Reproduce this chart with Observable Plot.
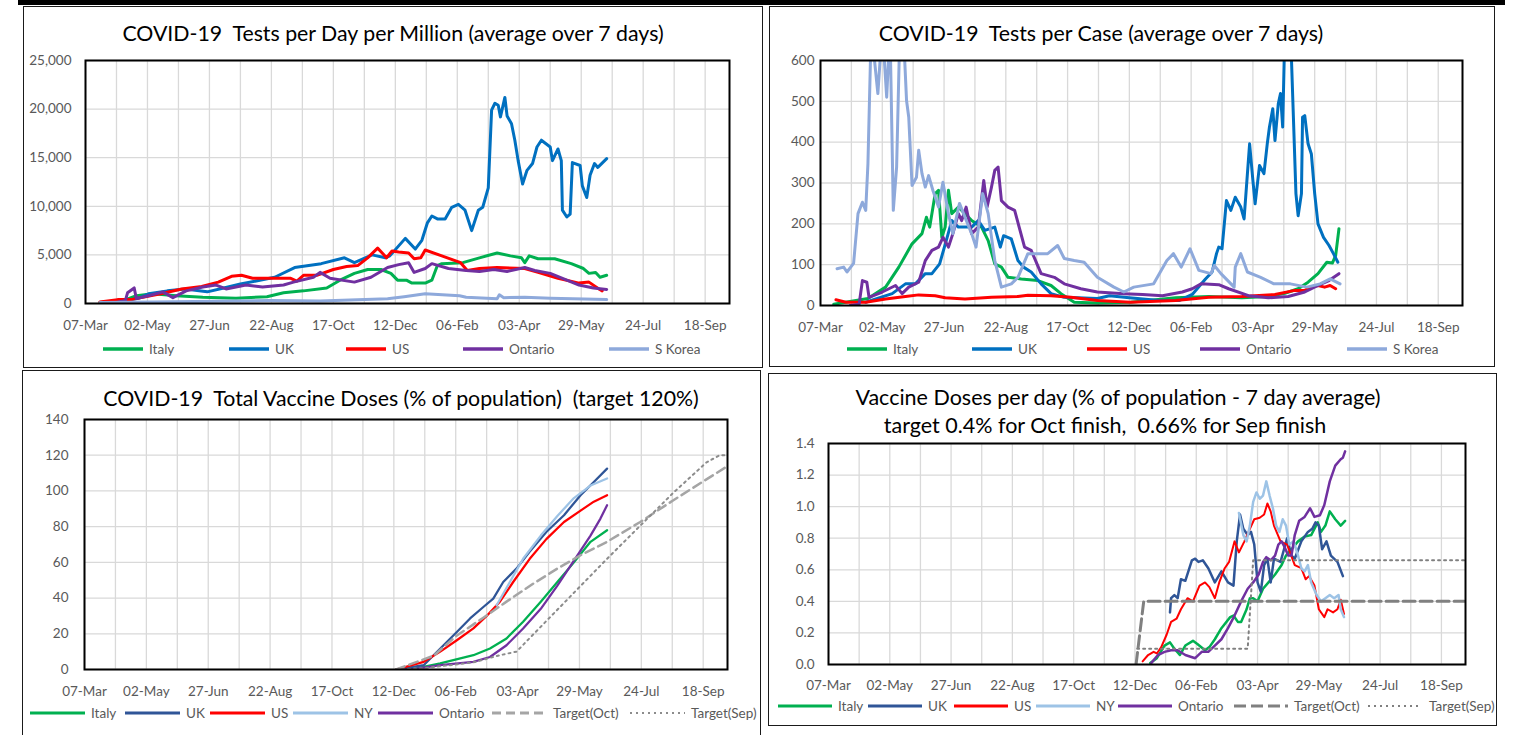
<!DOCTYPE html>
<html><head><meta charset="utf-8">
<script src="https://cdn.jsdelivr.net/npm/d3@7"></script>
<script src="https://cdn.jsdelivr.net/npm/@observablehq/plot@0.6"></script>
<style>
body{margin:0;background:#fff;width:1518px;height:735px;overflow:hidden;position:relative;font-family:Lato,"Noto Sans",sans-serif}
.panel{position:absolute;border:1.5px solid #1a1a1a;box-sizing:border-box}
.title{position:absolute;text-align:center;color:#000;white-space:pre;transform:translateX(-50%)}
.leg{position:absolute;display:flex;align-items:center;height:20px;color:#595959;font-size:13.5px;white-space:nowrap}
.leg svg{margin-right:6px}
.holder{position:absolute}
</style>
</head><body>
<script>
// ---------- x axis (shared) ----------
const xStart = "2020-03-07", xEnd = "2021-10-10";
const xTickLabels = ["2020-03-07","2020-05-02","2020-06-27","2020-08-22","2020-10-17","2020-12-12","2021-02-06","2021-04-03","2021-05-29","2021-07-24","2021-09-18"];
const xGridDates = ["2020-03-07","2020-04-04","2020-05-02","2020-05-30","2020-06-27","2020-07-25","2020-08-22","2020-09-19","2020-10-17","2020-11-14","2020-12-12","2021-01-09","2021-02-06","2021-03-06","2021-04-03","2021-05-01","2021-05-29","2021-06-26","2021-07-24","2021-08-21","2021-09-18"];

// ---------- Panel 1: Tests per Day per Million ----------
const p1Ticks = [0,5000,10000,15000,20000,25000];
const p1Italy = [["2020-03-20",100],["2020-04-10",300],["2020-04-22",800],["2020-05-07",1000],["2020-05-28",800],["2020-06-21",650],["2020-07-21",550],["2020-08-18",700],["2020-09-02",1100],["2020-09-20",1300],["2020-10-11",1600],["2020-10-23",2400],["2020-11-05",3100],["2020-11-17",3500],["2020-11-29",3500],["2020-12-08",3100],["2020-12-14",2400],["2020-12-22",2400],["2020-12-27",2100],["2021-01-08",2100],["2021-01-14",2400],["2021-01-19",3900],["2021-01-23",4100],["2021-02-11",4200],["2021-02-26",4700],["2021-03-14",5200],["2021-03-26",4900],["2021-04-05",4700],["2021-04-08",4200],["2021-04-12",4900],["2021-04-20",4600],["2021-05-05",4600],["2021-05-20",4100],["2021-05-31",3600],["2021-06-05",3100],["2021-06-11",3200],["2021-06-15",2700],["2021-06-21",2900]];
const p1UK = [["2020-04-10",200],["2020-04-25",600],["2020-05-03",1000],["2020-05-20",1300],["2020-06-05",1500],["2020-06-25",1200],["2020-07-10",1600],["2020-07-25",2000],["2020-08-25",2700],["2020-09-12",3700],["2020-10-06",4100],["2020-10-27",4700],["2020-11-05",4200],["2020-11-21",5000],["2020-12-03",4700],["2020-12-07",4900],["2020-12-21",6700],["2020-12-30",5600],["2021-01-05",6500],["2021-01-10",8300],["2021-01-14",9000],["2021-01-19",8700],["2021-01-26",8700],["2021-02-01",9900],["2021-02-07",10200],["2021-02-13",9600],["2021-02-19",7500],["2021-02-25",9600],["2021-03-01",9900],["2021-03-06",11900],["2021-03-09",19900],["2021-03-12",20600],["2021-03-15",20400],["2021-03-17",19200],["2021-03-21",21200],["2021-03-23",19300],["2021-03-27",18500],["2021-03-30",16800],["2021-04-02",14700],["2021-04-06",12300],["2021-04-10",13700],["2021-04-15",14400],["2021-04-19",16100],["2021-04-23",16800],["2021-05-01",16100],["2021-05-03",14700],["2021-05-08",15900],["2021-05-11",14700],["2021-05-12",9600],["2021-05-16",8900],["2021-05-19",9200],["2021-05-21",14500],["2021-05-28",14200],["2021-05-30",12100],["2021-06-03",10900],["2021-06-06",13200],["2021-06-10",14400],["2021-06-13",14000],["2021-06-21",14900]];
const p1US = [["2020-03-20",150],["2020-04-05",400],["2020-04-17",400],["2020-05-14",1000],["2020-06-02",1500],["2020-06-20",1750],["2020-07-05",2200],["2020-07-17",2800],["2020-07-26",2900],["2020-08-05",2600],["2020-08-14",2600],["2020-09-08",2600],["2020-09-14",2300],["2020-09-20",2900],["2020-10-02",2900],["2020-10-17",3500],["2020-10-29",3800],["2020-11-08",3900],["2020-11-17",4700],["2020-11-26",5700],["2020-12-01",5100],["2020-12-04",4700],["2020-12-09",5400],["2020-12-15",5300],["2020-12-24",5200],["2020-12-29",4600],["2021-01-04",4700],["2021-01-08",5500],["2021-01-23",4900],["2021-02-09",4200],["2021-02-15",3400],["2021-02-26",3600],["2021-03-14",3700],["2021-04-08",3600],["2021-04-20",3200],["2021-05-08",2600],["2021-05-27",2100],["2021-06-05",2200],["2021-06-14",1500],["2021-06-17",1300]];
const p1Ontario = [["2020-03-31",0],["2020-04-12",300],["2020-04-14",1100],["2020-04-20",1600],["2020-04-22",500],["2020-05-03",800],["2020-05-16",1200],["2020-05-25",600],["2020-06-06",1300],["2020-06-21",1700],["2020-07-03",1900],["2020-07-12",1500],["2020-07-30",1900],["2020-08-14",1700],["2020-09-02",1900],["2020-09-11",2200],["2020-09-29",2700],["2020-10-05",3200],["2020-10-14",2600],["2020-11-05",2200],["2020-11-20",2700],["2020-12-05",3700],["2020-12-15",4000],["2020-12-24",4200],["2020-12-29",3200],["2021-01-08",3600],["2021-01-14",4100],["2021-01-29",3600],["2021-02-14",3400],["2021-02-26",3300],["2021-03-11",3500],["2021-03-23",3300],["2021-04-08",3700],["2021-04-17",3400],["2021-05-01",3100],["2021-05-16",2400],["2021-05-27",1900],["2021-06-09",1600],["2021-06-21",1450]];
const p1SKorea = [["2020-03-20",100],["2020-05-07",150],["2020-08-20",300],["2020-10-05",250],["2020-12-05",500],["2020-12-20",700],["2021-01-08",1000],["2021-02-08",800],["2021-02-14",650],["2021-03-14",500],["2021-03-16",900],["2021-03-20",600],["2021-04-08",650],["2021-05-01",550],["2021-06-21",400]];

// ---------- Panel 2: Tests per Case ----------
const p2Ticks = [0,100,200,300,400,500,600];
const p2Italy = [["2020-03-19",3],["2020-04-19",17],["2020-05-05",45],["2020-05-17",94],["2020-05-29",151],["2020-06-07",176],["2020-06-11",216],["2020-06-14",192],["2020-06-19",274],["2020-06-22",282],["2020-06-25",167],["2020-06-28",192],["2020-07-01",282],["2020-07-04",225],["2020-07-10",241],["2020-07-16",225],["2020-07-22",208],["2020-07-31",192],["2020-08-06",159],["2020-08-12",102],["2020-08-18",94],["2020-08-24",69],["2020-09-05",65],["2020-09-20",61],["2020-10-02",49],["2020-10-11",29],["2020-10-23",8],["2020-11-13",6],["2020-12-13",8],["2021-01-23",19],["2021-02-22",22],["2021-03-24",19],["2021-04-17",22],["2021-05-02",30],["2021-05-14",41],["2021-05-23",57],["2021-06-01",78],["2021-06-09",106],["2021-06-14",104],["2021-06-17",122],["2021-06-20",188]];
const p2UK = [["2020-04-17",8],["2020-05-11",29],["2020-05-23",53],["2020-06-01",53],["2020-06-10",78],["2020-06-16",78],["2020-06-23",102],["2020-06-29",159],["2020-07-04",208],["2020-07-10",192],["2020-07-22",192],["2020-07-28",208],["2020-08-03",184],["2020-08-12",192],["2020-08-17",143],["2020-08-20",171],["2020-08-27",163],["2020-09-02",110],["2020-09-07",94],["2020-09-14",82],["2020-09-23",53],["2020-10-02",29],["2020-10-14",20],["2020-11-13",17],["2020-11-24",24],["2020-12-12",19],["2021-01-08",12],["2021-01-26",12],["2021-02-07",27],["2021-02-19",65],["2021-02-25",82],["2021-03-01",127],["2021-03-03",143],["2021-03-06",139],["2021-03-10",257],["2021-03-14",233],["2021-03-18",265],["2021-03-23",241],["2021-03-26",212],["2021-03-31",396],["2021-04-03",306],["2021-04-05",249],["2021-04-09",343],["2021-04-13",323],["2021-04-16",396],["2021-04-18",437],["2021-04-21",482],["2021-04-23",404],["2021-04-26",494],["2021-04-28",519],["2021-04-30",437],["2021-05-02",680],["2021-05-07",680],["2021-05-10",437],["2021-05-12",274],["2021-05-14",220],["2021-05-17",274],["2021-05-18",461],["2021-05-20",465],["2021-05-23",396],["2021-05-26",371],["2021-05-29",274],["2021-06-01",200],["2021-06-06",167],["2021-06-11",147],["2021-06-15",127],["2021-06-19",106]];
const p2US = [["2020-03-21",14],["2020-03-30",8],["2020-04-17",8],["2020-05-05",16],["2020-05-23",22],["2020-06-04",26],["2020-06-19",24],["2020-06-28",19],["2020-07-16",16],["2020-08-09",20],["2020-09-02",22],["2020-09-11",25],["2020-10-02",24],["2020-10-20",20],["2020-11-13",12],["2020-12-13",8],["2021-01-23",12],["2021-02-22",20],["2021-03-24",22],["2021-04-23",27],["2021-05-11",37],["2021-05-20",37],["2021-05-26",45],["2021-06-01",49],["2021-06-07",45],["2021-06-12",49],["2021-06-17",41]];
const p2Ontario = [["2020-04-03",0],["2020-04-11",3],["2020-04-14",61],["2020-04-18",57],["2020-04-20",20],["2020-05-02",33],["2020-05-14",49],["2020-05-20",29],["2020-05-26",45],["2020-06-04",57],["2020-06-10",110],["2020-06-16",135],["2020-06-22",143],["2020-06-26",167],["2020-07-01",143],["2020-07-05",176],["2020-07-10",225],["2020-07-13",208],["2020-07-17",241],["2020-07-22",176],["2020-07-28",192],["2020-08-02",306],["2020-08-05",241],["2020-08-09",290],["2020-08-12",331],["2020-08-15",339],["2020-08-18",257],["2020-08-24",241],["2020-08-30",233],["2020-09-08",143],["2020-09-14",135],["2020-09-23",78],["2020-10-05",69],["2020-10-14",53],["2020-10-29",41],["2020-11-13",33],["2020-12-07",29],["2020-12-24",27],["2021-01-11",24],["2021-01-29",33],["2021-02-07",41],["2021-02-15",53],["2021-03-03",51],["2021-03-12",41],["2021-03-30",24],["2021-04-17",19],["2021-05-05",22],["2021-05-20",33],["2021-06-01",49],["2021-06-11",61],["2021-06-20",78]];
const p2SKorea = [["2020-03-22",90],["2020-03-28",94],["2020-03-31",82],["2020-04-06",103],["2020-04-10",225],["2020-04-14",253],["2020-04-17",233],["2020-04-19",347],["2020-04-22",680],["2020-04-28",519],["2020-05-02",680],["2020-05-06",510],["2020-05-09",680],["2020-05-12",233],["2020-05-15",339],["2020-05-18",680],["2020-05-21",680],["2020-05-24",502],["2020-05-26",461],["2020-05-29",294],["2020-06-02",314],["2020-06-04",380],["2020-06-07",323],["2020-06-10",290],["2020-06-13",318],["2020-06-17",281],["2020-06-22",241],["2020-06-26",302],["2020-07-01",225],["2020-07-05",176],["2020-07-11",250],["2020-07-16",216],["2020-07-22",176],["2020-07-26",143],["2020-08-01",274],["2020-08-06",225],["2020-08-12",110],["2020-08-18",45],["2020-08-27",53],["2020-09-02",69],["2020-09-11",127],["2020-09-20",127],["2020-09-29",127],["2020-10-08",147],["2020-10-14",115],["2020-10-23",110],["2020-11-01",106],["2020-11-13",69],["2020-11-28",45],["2020-12-07",33],["2020-12-16",45],["2021-01-03",53],["2021-01-15",110],["2021-01-21",127],["2021-01-28",94],["2021-02-05",139],["2021-02-13",86],["2021-02-24",78],["2021-02-27",98],["2021-03-05",78],["2021-03-17",45],["2021-03-18",94],["2021-03-23",127],["2021-03-29",82],["2021-04-10",69],["2021-04-22",53],["2021-05-07",53],["2021-05-22",45],["2021-06-03",53],["2021-06-12",65],["2021-06-21",53]];

// ---------- Panel 3: Total Vaccine Doses (% of population) ----------
const p3Ticks = [0,20,40,60,80,100,120,140];
const p3Italy = [["2020-12-27",0],["2021-01-23",3.4],["2021-02-22",8],["2021-03-09",11.8],["2021-03-24",17.4],["2021-04-08",26.7],["2021-04-24",38],["2021-05-09",49],["2021-05-24",60],["2021-06-08",71.5],["2021-06-23",78]];
const p3UK = [["2020-12-14",0],["2021-01-08",2.4],["2021-01-17",8],["2021-01-26",13.6],["2021-02-07",21],["2021-02-19",28.6],["2021-03-03",35],["2021-03-12",39.7],["2021-03-21",49],["2021-04-02",56.5],["2021-04-14",66],["2021-04-29",77],["2021-05-15",86.4],["2021-05-30",97.6],["2021-06-11",105],["2021-06-23",112.5]];
const p3US = [["2020-12-14",0],["2021-01-08",4.3],["2021-01-23",10],["2021-02-07",16.4],["2021-02-22",23],["2021-03-06",30],["2021-03-18",38],["2021-03-30",49],["2021-04-14",62],["2021-04-29",73],["2021-05-15",82.6],["2021-05-30",89],["2021-06-11",94],["2021-06-23",97.6]];
const p3NY = [["2021-03-15",36],["2021-03-27",49],["2021-04-08",62],["2021-04-24",75],["2021-05-09",86],["2021-05-24",96],["2021-06-08",103],["2021-06-23",107]];
const p3Ontario = [["2020-12-27",0],["2021-01-23",2.4],["2021-02-22",4.3],["2021-03-09",7],["2021-03-24",13.6],["2021-04-08",23],["2021-04-24",34],["2021-05-09",47],["2021-05-24",61],["2021-06-08",75],["2021-06-17",84.5],["2021-06-23",92]];
const p3TargetOct = [["2020-12-14",0],["2021-01-17",7.7],["2021-02-07",19],["2021-03-03",29],["2021-03-24",38],["2021-04-17",48],["2021-05-09",56.5],["2021-05-30",64],["2021-06-23",71.5],["2021-07-23",82.6],["2021-08-22",94.8],["2021-10-09",113.5]];
const p3TargetSep = [["2020-12-14",0],["2021-01-05",0.5],["2021-02-22",4],["2021-03-18",8],["2021-04-02",10],["2021-06-23",62],["2021-07-23",80.5],["2021-08-22",99],["2021-09-21",116],["2021-10-03",120],["2021-10-09",120]];

// ---------- Panel 4: Vaccine Doses per day ----------
const p4Ticks = [0,0.2,0.4,0.6,0.8,1.0,1.2,1.4];
const p4Italy = [["2020-12-26",0.01],["2021-01-01",0.04],["2021-01-08",0.12],["2021-01-13",0.14],["2021-01-17",0.10],["2021-01-22",0.06],["2021-01-27",0.12],["2021-02-03",0.15],["2021-02-07",0.13],["2021-02-14",0.09],["2021-02-18",0.11],["2021-02-23",0.16],["2021-03-01",0.23],["2021-03-09",0.30],["2021-03-12",0.31],["2021-03-16",0.27],["2021-03-19",0.27],["2021-03-24",0.35],["2021-03-27",0.42],["2021-03-30",0.42],["2021-04-03",0.40],["2021-04-08",0.48],["2021-04-13",0.52],["2021-04-19",0.57],["2021-04-25",0.63],["2021-04-29",0.69],["2021-05-04",0.73],["2021-05-10",0.78],["2021-05-16",0.81],["2021-05-22",0.82],["2021-05-28",0.90],["2021-05-31",0.84],["2021-06-04",0.88],["2021-06-08",0.97],["2021-06-13",0.92],["2021-06-18",0.88],["2021-06-22",0.91]];
const p4UK = [["2021-01-13",0.33],["2021-01-14",0.42],["2021-01-17",0.44],["2021-01-20",0.42],["2021-01-23",0.54],["2021-01-27",0.53],["2021-02-02",0.66],["2021-02-05",0.67],["2021-02-08",0.65],["2021-02-12",0.66],["2021-02-17",0.61],["2021-02-23",0.52],["2021-03-01",0.59],["2021-03-07",0.52],["2021-03-12",0.50],["2021-03-15",0.78],["2021-03-18",0.95],["2021-03-21",0.86],["2021-03-25",0.82],["2021-03-28",0.84],["2021-03-31",0.76],["2021-04-03",0.52],["2021-04-06",0.46],["2021-04-09",0.63],["2021-04-12",0.67],["2021-04-15",0.52],["2021-04-18",0.67],["2021-04-24",0.65],["2021-04-30",0.80],["2021-05-04",0.69],["2021-05-07",0.67],["2021-05-13",0.78],["2021-05-19",0.84],["2021-05-23",0.86],["2021-05-26",0.90],["2021-05-29",0.88],["2021-06-01",0.73],["2021-06-05",0.78],["2021-06-09",0.69],["2021-06-15",0.65],["2021-06-20",0.56]];
const p4US = [["2020-12-19",0.02],["2020-12-24",0.06],["2020-12-29",0.08],["2021-01-01",0.07],["2021-01-05",0.11],["2021-01-10",0.19],["2021-01-14",0.27],["2021-01-19",0.29],["2021-01-23",0.35],["2021-01-29",0.42],["2021-02-03",0.40],["2021-02-09",0.50],["2021-02-14",0.52],["2021-02-18",0.49],["2021-02-23",0.42],["2021-02-27",0.52],["2021-03-04",0.61],["2021-03-08",0.65],["2021-03-13",0.78],["2021-03-17",0.71],["2021-03-22",0.78],["2021-03-27",0.86],["2021-03-31",0.92],["2021-04-05",0.93],["2021-04-09",0.95],["2021-04-12",1.02],["2021-04-15",0.97],["2021-04-18",0.88],["2021-04-24",0.78],["2021-04-30",0.76],["2021-05-07",0.63],["2021-05-13",0.61],["2021-05-17",0.54],["2021-05-20",0.56],["2021-05-25",0.50],["2021-05-29",0.35],["2021-06-03",0.30],["2021-06-06",0.35],["2021-06-11",0.33],["2021-06-15",0.35],["2021-06-18",0.41],["2021-06-21",0.32]];
const p4NY = [["2021-03-17",0.96],["2021-03-21",0.82],["2021-03-24",0.78],["2021-03-27",0.88],["2021-03-30",1.03],["2021-04-02",1.09],["2021-04-05",1.05],["2021-04-08",1.07],["2021-04-11",1.16],["2021-04-14",1.07],["2021-04-17",0.99],["2021-04-20",0.88],["2021-04-23",0.84],["2021-04-26",0.92],["2021-04-29",0.88],["2021-05-02",0.76],["2021-05-06",0.78],["2021-05-10",0.69],["2021-05-13",0.61],["2021-05-16",0.59],["2021-05-19",0.63],["2021-05-22",0.52],["2021-05-27",0.44],["2021-05-31",0.40],["2021-06-04",0.42],["2021-06-08",0.44],["2021-06-12",0.42],["2021-06-16",0.44],["2021-06-18",0.35],["2021-06-21",0.30]];
const p4Ontario = [["2020-12-27",0.01],["2021-01-02",0.06],["2021-01-08",0.08],["2021-01-14",0.09],["2021-01-20",0.09],["2021-01-27",0.06],["2021-02-05",0.04],["2021-02-11",0.08],["2021-02-17",0.08],["2021-02-23",0.12],["2021-03-01",0.16],["2021-03-07",0.23],["2021-03-13",0.31],["2021-03-19",0.40],["2021-03-25",0.48],["2021-03-30",0.52],["2021-04-04",0.57],["2021-04-08",0.65],["2021-04-11",0.68],["2021-04-15",0.66],["2021-04-19",0.69],["2021-04-22",0.76],["2021-04-25",0.78],["2021-04-28",0.74],["2021-05-01",0.69],["2021-05-04",0.69],["2021-05-07",0.82],["2021-05-11",0.91],["2021-05-16",0.935],["2021-05-21",0.99],["2021-05-25",0.935],["2021-05-30",0.945],["2021-06-03",1.01],["2021-06-08",1.16],["2021-06-13",1.26],["2021-06-18",1.30],["2021-06-20",1.31],["2021-06-22",1.35]];
const p4TargetOct = [["2020-12-13",0],["2020-12-20",0.4],["2021-10-09",0.4]];
const p4TargetSep = [["2020-12-14",0.1],["2021-03-25",0.1],["2021-03-30",0.66],["2021-10-09",0.66]];

// ---------- rendering ----------
const FONT = "Lato, 'Noto Sans', sans-serif";
const parse = s => new Date(s + "T00:00:00Z");
const fmt = d3.utcFormat("%d-%b");
const rows = arr => arr.map(([d, v]) => ({date: parse(d), value: v}));

const C = {italy:"#00B050", ukTop:"#0070C0", ukBot:"#2F5597", us:"#FF0000", ont:"#7030A0", kor:"#8EA9DB", ny:"#9DC3E6"};

function box(cls, l, t, w, h) {
  const d = document.createElement("div");
  d.className = cls;
  Object.assign(d.style, {left: l + "px", top: t + "px", width: w + "px", height: h + "px"});
  document.body.appendChild(d);
  return d;
}
function title(text, cx, top, size) {
  const d = document.createElement("div");
  d.className = "title";
  d.textContent = text;
  Object.assign(d.style, {left: cx + "px", top: top + "px", fontSize: size + "px"});
  document.body.appendChild(d);
}
function legend(items, y, lineW, thick) {
  for (const it of items) {
    const d = document.createElement("div");
    d.className = "leg";
    d.style.left = it.x + "px";
    d.style.top = (y - 10) + "px";
    const w = it.w || lineW;
    d.innerHTML = `<svg width="${w}" height="8"><line x1="0" x2="${w}" y1="4" y2="4" stroke="${it.color}" stroke-width="${it.sw || thick}" ${it.dash ? `stroke-dasharray="${it.dash}"` : ""}/></svg><span style="margin-left:${it.gap || 0}px">${it.label}</span>`;
    document.body.appendChild(d);
  }
}

function panel(cfg) {
  const chart = Plot.plot({
    width: cfg.w, height: cfg.h,
    marginLeft: cfg.ml, marginRight: cfg.mr, marginTop: cfg.mt, marginBottom: cfg.mb,
    style: {background: "none", fontFamily: FONT, fontSize: "13.5px", color: "#595959", overflow: "visible"},
    x: {type: "utc", domain: [parse(xStart), parse(xEnd)], label: null},
    y: {domain: [0, cfg.ticks[cfg.ticks.length - 1]], label: null},
    marks: [
      Plot.gridX(xGridDates.map(parse), {stroke: "#d9d9d9", strokeOpacity: 1, strokeWidth: 1.3}),
      Plot.gridY(cfg.ticks, {stroke: "#d9d9d9", strokeOpacity: 1, strokeWidth: 1.3}),
      ...cfg.series.map(s => Plot.line(rows(s.data), {x: "date", y: "value", stroke: s.color, strokeWidth: s.sw, strokeDasharray: s.dash, clip: true})),
      Plot.frame({stroke: "#000", strokeWidth: 2}),
      Plot.axisX(xTickLabels.map(parse), {tickSize: 0, tickPadding: cfg.xpad, tickFormat: fmt, label: null, fill: "#595959"}),
      Plot.axisY(cfg.ticks, {tickSize: 0, tickPadding: cfg.ypad, tickFormat: cfg.fmt, label: null, fill: "#595959"})
    ]
  });
  const h = box("holder", cfg.l, cfg.t, cfg.w, cfg.h);
  h.appendChild(chart);
}

// top black rule
const rule = box("holder", 18, 0, 1487, 5); rule.style.background = "#000";

// panel borders
box("panel", 23, 6, 740, 362);
box("panel", 769, 6, 726, 361);
box("panel", 22, 370, 739, 380);
box("panel", 768, 373, 729, 353);

// Panel 1
panel({l: 25, t: 45, w: 736, h: 300, ml: 60, mr: 32, mt: 15, mb: 42, xpad: 17, ypad: 14,
  ticks: p1Ticks, fmt: d3.format(","),
  series: [
    {data: p1Italy, color: C.italy, sw: 3},
    {data: p1UK, color: C.ukTop, sw: 3},
    {data: p1US, color: C.us, sw: 3},
    {data: p1Ontario, color: C.ont, sw: 3},
    {data: p1SKorea, color: C.kor, sw: 3}
  ]});
title("COVID-19  Tests per Day per Million (average over 7 days)", 393, 20, 21.3);
legend([
  {x: 103, label: "Italy", color: C.italy},
  {x: 229, label: "UK", color: C.ukTop},
  {x: 346, label: "US", color: C.us},
  {x: 463, label: "Ontario", color: C.ont},
  {x: 609, label: "S Korea", color: C.kor}
], 349, 40, 3.5);

// Panel 2
panel({l: 771, t: 45, w: 722, h: 300, ml: 49, mr: 31, mt: 15, mb: 40, xpad: 17, ypad: 6,
  ticks: p2Ticks, fmt: d3.format("d"),
  series: [
    {data: p2Italy, color: C.italy, sw: 3},
    {data: p2UK, color: C.ukTop, sw: 3},
    {data: p2US, color: C.us, sw: 3},
    {data: p2Ontario, color: C.ont, sw: 3},
    {data: p2SKorea, color: C.kor, sw: 3}
  ]});
title("COVID-19  Tests per Case (average over 7 days)", 1101, 20, 21.3);
legend([
  {x: 847, label: "Italy", color: C.italy},
  {x: 972, label: "UK", color: C.ukTop},
  {x: 1087, label: "US", color: C.us},
  {x: 1200, label: "Ontario", color: C.ont},
  {x: 1347, label: "S Korea", color: C.kor}
], 349, 40, 3.5);

// Panel 3
panel({l: 25, t: 410, w: 734, h: 290, ml: 59, mr: 32, mt: 9, mb: 31, xpad: 17, ypad: 16,
  ticks: p3Ticks, fmt: d3.format("d"),
  series: [
    {data: p3Italy, color: C.italy, sw: 2.25},
    {data: p3UK, color: C.ukBot, sw: 2.25},
    {data: p3US, color: C.us, sw: 2.25},
    {data: p3NY, color: C.ny, sw: 2.25},
    {data: p3Ontario, color: C.ont, sw: 2.25},
    {data: p3TargetOct, color: "#A5A5A5", sw: 2.5, dash: "9,5"},
    {data: p3TargetSep, color: "#8C8C8C", sw: 2, dash: "2,4"}
  ]});
title("COVID-19  Total Vaccine Doses (% of population)  (target 120%)", 401, 385, 21.3);
legend([
  {x: 30, label: "Italy", color: C.italy},
  {x: 125, label: "UK", color: C.ukBot},
  {x: 210, label: "US", color: C.us},
  {x: 293, label: "NY", color: C.ny},
  {x: 378, label: "Ontario", color: C.ont},
  {x: 492, label: "Target(Oct)", color: "#A5A5A5", dash: "9,5"},
  {x: 630, label: "Target(Sep)", color: "#8C8C8C", dash: "2,4", sw: 2}
], 713, 55, 3);

// Panel 4
panel({l: 770, t: 435, w: 724, h: 260, ml: 58, mr: 29, mt: 8, mb: 31, xpad: 16, ypad: 14,
  ticks: p4Ticks, fmt: d3.format(".1f"),
  series: [
    {data: p4Italy, color: C.italy, sw: 2.5},
    {data: p4UK, color: C.ukBot, sw: 2.5},
    {data: p4US, color: C.us, sw: 2},
    {data: p4NY, color: C.ny, sw: 2.5},
    {data: p4Ontario, color: C.ont, sw: 2.5},
    {data: p4TargetOct, color: "#808080", sw: 3, dash: "12,5"},
    {data: p4TargetSep, color: "#808080", sw: 2, dash: "2,4"}
  ]});
title("Vaccine Doses per day (% of population - 7 day average)", 1118, 384, 21.5);
title("target 0.4% for Oct finish,  0.66% for Sep finish", 1105, 412, 21.5);
legend([
  {x: 778, label: "Italy", color: C.italy},
  {x: 868, label: "UK", color: C.ukBot},
  {x: 954, label: "US", color: C.us},
  {x: 1036, label: "NY", color: C.ny},
  {x: 1118, label: "Ontario", color: C.ont},
  {x: 1234, label: "Target(Oct)", color: "#808080", dash: "12,5"},
  {x: 1368, label: "Target(Sep)", color: "#808080", dash: "2,4", sw: 2, w: 50, gap: 5}
], 706, 54, 3);
</script>
</body></html>
